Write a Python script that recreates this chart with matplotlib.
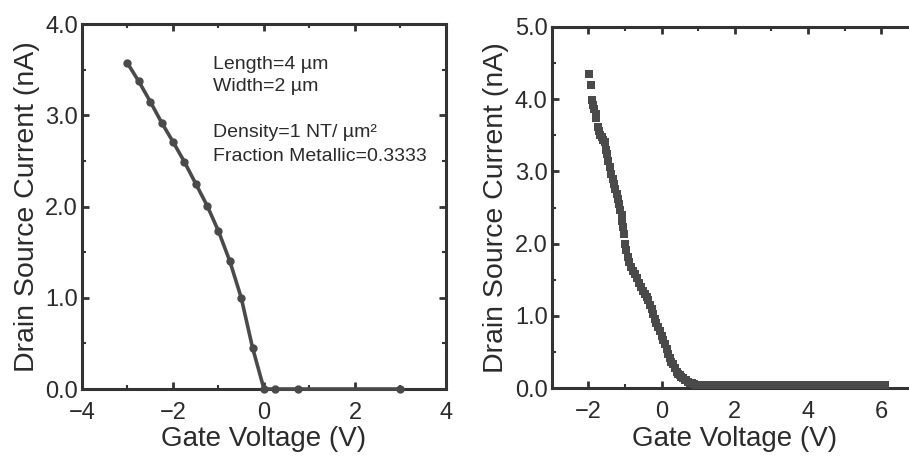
import matplotlib.pyplot as plt
from matplotlib.ticker import MultipleLocator, FormatStrFormatter

plt.rcParams['font.family'] = ['Liberation Sans', 'DejaVu Sans']

# left panel: simulated transfer curve
sim_vg = [-3.0, -2.75, -2.5, -2.25, -2.0, -1.75, -1.5, -1.25, -1.0, -0.75,
          -0.5, -0.25, 0.0, 0.25, 0.75, 3.0]
sim_ids = [3.57, 3.37, 3.15, 2.92, 2.71, 2.49, 2.25, 2.01, 1.73, 1.40,
           1.00, 0.45, 0.0, 0.0, 0.0, 0.0]

notes = ['Length=4 µm', 'Width=2 µm', '', 'Density=1 NT/ µm²',
         'Fraction Metallic=0.3333']

# right panel: measured transfer curve
meas_vg = [-1.99, -1.92, -1.89, -1.87, -1.84, -1.80, -1.78, -1.74, -1.71, -1.67,
           -1.64, -1.59, -1.55, -1.52, -1.50, -1.46, -1.42, -1.37, -1.33, -1.29,
           -1.26, -1.23, -1.20, -1.17, -1.13, -1.09, -1.07, -1.05, -1.03, -1.00,
           -0.97, -0.93, -0.89, -0.84, -0.78, -0.73, -0.68, -0.62, -0.55, -0.50,
           -0.45, -0.40, -0.36, -0.32, -0.27, -0.23, -0.18, -0.14, -0.09, -0.05,
           0.00, 0.05, 0.09, 0.14, 0.18, 0.23, 0.27, 0.31, 0.36, 0.41,
           0.45, 0.50, 0.54, 0.59, 0.64, 0.68, 0.73, 0.78, 0.84, 0.90,
           0.95, 1.00,
           1.1, 1.2, 1.3, 1.4, 1.5, 1.6, 1.7, 1.8, 1.9, 2.0,
           2.1, 2.2, 2.3, 2.4, 2.5, 2.6, 2.7, 2.8, 2.9, 3.0,
           3.1, 3.2, 3.3, 3.4, 3.5, 3.6, 3.7, 3.8, 3.9, 4.0,
           4.1, 4.2, 4.3, 4.4, 4.5, 4.6, 4.7, 4.8, 4.9, 5.0,
           5.1, 5.2, 5.3, 5.4, 5.5, 5.6, 5.7, 5.8, 5.9, 6.0, 6.1]
meas_ids = [4.35, 4.19, 3.99, 3.92, 3.86, 3.79, 3.74, 3.62, 3.56, 3.50,
            3.47, 3.43, 3.40, 3.30, 3.24, 3.15, 3.06, 2.96, 2.89, 2.82,
            2.75, 2.69, 2.62, 2.55, 2.47, 2.39, 2.31, 2.23, 2.13, 2.00,
            1.91, 1.82, 1.74, 1.68, 1.62, 1.58, 1.53, 1.46, 1.40, 1.35,
            1.30, 1.26, 1.22, 1.15, 1.09, 1.03, 0.96, 0.91, 0.85, 0.79,
            0.73, 0.67, 0.61, 0.54, 0.48, 0.42, 0.37, 0.33, 0.28, 0.23,
            0.20, 0.18, 0.16, 0.14, 0.12, 0.11, 0.09, 0.08, 0.07, 0.06,
            0.05, 0.05,
            0.05, 0.05, 0.04, 0.05, 0.04, 0.04, 0.05, 0.04, 0.04, 0.05,
            0.04, 0.04, 0.05, 0.04, 0.04, 0.04, 0.05, 0.04, 0.04, 0.04,
            0.05, 0.04, 0.04, 0.04, 0.05, 0.04, 0.04, 0.05, 0.04, 0.04,
            0.04, 0.05, 0.04, 0.04, 0.04, 0.05, 0.04, 0.04, 0.05, 0.04,
            0.04, 0.04, 0.05, 0.04, 0.04, 0.04, 0.05, 0.04, 0.04, 0.04, 0.04]

ink = '#4a4a4a'
frame = '#333333'
txt = '#2b2b2b'

fig = plt.figure(figsize=(9.09, 4.59), dpi=100)
ax1 = fig.add_axes([0.0902, 0.1525, 0.4004, 0.7952])
ax2 = fig.add_axes([0.607, 0.154, 0.4026, 0.7878])


def style(ax):
    for s in ax.spines.values():
        s.set_linewidth(2.2)
        s.set_color(frame)
    ax.tick_params(which='both', direction='in', top=True, right=True,
                   color=frame, labelcolor=txt, labelsize=17)
    ax.tick_params(axis='y', which='major', pad=3)
    ax.tick_params(axis='x', which='major', pad=9)
    ax.tick_params(which='major', length=5, width=2)
    ax.tick_params(which='minor', length=3, width=1.5)
    ax.yaxis.set_major_formatter(FormatStrFormatter('%.1f'))
    ax.set_xlabel('Gate Voltage (V)', fontsize=20, color=txt, labelpad=2)
    ax.set_ylabel('Drain Source Current (nA)', fontsize=20.5, color=txt, labelpad=4)


ax1.plot(sim_vg, sim_ids, '-o', color=ink, lw=2.6, ms=5, clip_on=False, zorder=3)
ax1.set_xlim(-4, 4)
ax1.set_ylim(0, 4)
ax1.xaxis.set_major_locator(MultipleLocator(2))
ax1.xaxis.set_minor_locator(MultipleLocator(1))
ax1.yaxis.set_major_locator(MultipleLocator(1))
ax1.yaxis.set_minor_locator(MultipleLocator(0.5))
style(ax1)

note_y = [3.56, 3.31, 3.06, 2.81, 2.55]
for t, y in zip(notes, note_y):
    if t:
        ax1.text(-1.12, y, t, fontsize=14, color=txt, va='center', ha='left')

ax2.plot(meas_vg, meas_ids, 's', color=ink, ms=5.8, mew=0, clip_on=False, zorder=3)
ax2.set_xlim(-3, 7)
ax2.set_ylim(0, 5)
ax2.xaxis.set_major_locator(MultipleLocator(2))
ax2.xaxis.set_minor_locator(MultipleLocator(1))
ax2.yaxis.set_major_locator(MultipleLocator(1))
ax2.yaxis.set_minor_locator(MultipleLocator(0.5))
style(ax2)

fig.savefig('out.png', dpi=100)
